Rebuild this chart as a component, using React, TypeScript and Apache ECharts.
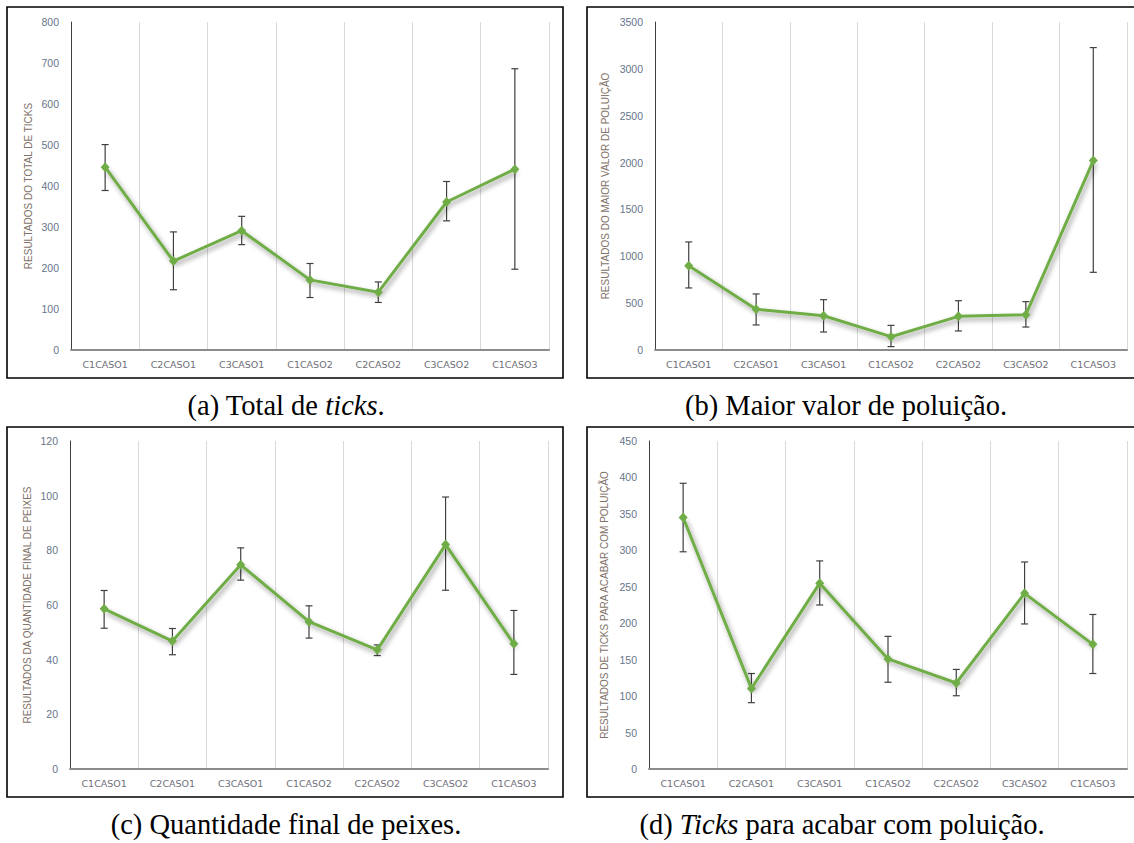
import React, { useEffect, useRef } from "react";
import * as echarts from "echarts";

const categories = ["C1CASO1", "C2CASO1", "C3CASO1", "C1CASO2", "C2CASO2", "C3CASO2", "C1CASO3"];

const totalTicks = [446, 217, 291, 171, 141, 361, 441];
const totalTicksLow = [389, 147, 257, 128, 116, 315, 197];
const totalTicksHigh = [501, 288, 326, 211, 166, 411, 686];

const maxPollution = [900, 434, 366, 142, 359, 377, 2021];
const maxPollutionLow = [662, 267, 192, 36, 203, 245, 829];
const maxPollutionHigh = [1153, 598, 537, 263, 526, 516, 3227];

const finalFish = [58.6, 46.8, 74.7, 53.9, 43.6, 82.1, 45.8];
const finalFishLow = [51.5, 41.8, 69.1, 47.9, 41.5, 65.4, 34.6];
const finalFishHigh = [65.3, 51.4, 80.9, 59.7, 45.4, 99.5, 58];

const ticksToClean = [345, 110.5, 255, 151, 118, 241, 171];
const ticksToCleanLow = [298, 91, 225, 119, 100.5, 199, 131];
const ticksToCleanHigh = [392, 131, 285.5, 182, 136.6, 284, 212];

const yNames = [
  "RESULTADOS DO TOTAL DE TICKS",
  "RESULTADOS DO MAIOR VALOR DE POLUIÇÃO",
  "RESULTADOS DA QUANTIDADE FINAL DE PEIXES",
  "RESULTADOS DE TICKS PARA ACABAR COM POLUIÇÃO",
];
const yMax = [800, 3500, 120, 450];
const yStep = [100, 500, 20, 50];

const captions = [
  "{n|(a) Total de }{i|ticks}{n|.}",
  "{n|(b) Maior valor de poluição.}",
  "{n|(c) Quantidade final de peixes.}",
  "{n|(d) }{i|Ticks}{n| para acabar com poluição.}",
];

const GREEN = "#70ad47";

export default function App() {
  const ref = useRef<HTMLDivElement>(null);

  useEffect(() => {
    if (!ref.current) return;
    const chart = echarts.init(ref.current, null, { renderer: "svg" });

    const values = [totalTicks, maxPollution, finalFish, ticksToClean];
    const lows = [totalTicksLow, maxPollutionLow, finalFishLow, ticksToCleanLow];
    const highs = [totalTicksHigh, maxPollutionHigh, finalFishHigh, ticksToCleanHigh];

    const grids = [
      { left: 71, top: 22, width: 478, height: 328 },
      { left: 655, top: 22, width: 472, height: 328 },
      { left: 70, top: 441, width: 478, height: 328 },
      { left: 649, top: 441, width: 478, height: 328 },
    ];
    const nameGaps = [38, 45, 38, 40];

    const boxes = [
      { x: 7, y: 7, w: 556, h: 371 },
      { x: 587, y: 7, w: 560, h: 371 },
      { x: 7, y: 427, w: 556, h: 370 },
      { x: 587, y: 427, w: 560, h: 370 },
    ];
    const capPos = [
      { x: 286, y: 405 },
      { x: 846, y: 405 },
      { x: 286, y: 824 },
      { x: 842, y: 824 },
    ];

    const xAxis = grids.map((_, i) => ({
      type: "category",
      gridIndex: i,
      data: categories,
      boundaryGap: true,
      axisTick: { show: false },
      axisLine: { show: true, lineStyle: { color: "#8c8c8c", width: 2 } },
      splitLine: { show: true, lineStyle: { color: "#d9d9d9", width: 1 } },
      axisLabel: {
        interval: 0,
        color: "#6e6e78",
        fontSize: 9.5,
        margin: 9,
        fontFamily: "DejaVu Sans",
      },
    }));

    const yAxis = grids.map((_, i) => ({
      type: "value",
      gridIndex: i,
      min: 0,
      max: yMax[i],
      interval: yStep[i],
      splitLine: { show: false },
      axisTick: { show: false },
      axisLine: { show: true, lineStyle: { color: "#404040", width: 1 } },
      axisLabel: {
        color: "#66758a",
        fontSize: 10.5,
        margin: 12,
        fontFamily: "Liberation Sans",
        formatter: (v: number) => String(v),
      },
      name: yNames[i],
      nameLocation: "middle",
      nameGap: nameGaps[i],
      nameTextStyle: { color: "#7f7268", fontSize: 10, fontFamily: "Liberation Sans" },
    }));

    const series: any[] = [];
    values.forEach((vals, i) => {
      series.push({
        type: "custom",
        xAxisIndex: i,
        yAxisIndex: i,
        z: 2,
        data: categories.map((_, k) => [k, lows[i][k], highs[i][k]]),
        encode: { x: 0, y: [1, 2] },
        renderItem: (params: any, api: any) => {
          const xi = api.value(0);
          const lo = api.coord([xi, api.value(1)]);
          const hi = api.coord([xi, api.value(2)]);
          const hw = 3.5;
          const style = { stroke: "#404040", lineWidth: 1.2 };
          return {
            type: "group",
            children: [
              { type: "line", shape: { x1: lo[0], y1: lo[1], x2: hi[0], y2: hi[1] }, style },
              { type: "line", shape: { x1: lo[0] - hw, y1: lo[1], x2: lo[0] + hw, y2: lo[1] }, style },
              { type: "line", shape: { x1: hi[0] - hw, y1: hi[1], x2: hi[0] + hw, y2: hi[1] }, style },
            ],
          };
        },
      });
      series.push({
        type: "line",
        xAxisIndex: i,
        yAxisIndex: i,
        z: 3,
        data: vals,
        symbol: "diamond",
        symbolSize: [9, 10],
        itemStyle: { color: GREEN },
        lineStyle: {
          color: GREEN,
          width: 3,
          shadowColor: "rgba(0,0,0,0.4)",
          shadowBlur: 5,
          shadowOffsetX: 2,
          shadowOffsetY: 3,
        },
      });
    });

    const graphic: any[] = [];
    boxes.forEach((b) => {
      graphic.push({
        type: "rect",
        shape: { x: b.x, y: b.y, width: b.w, height: b.h },
        style: { fill: "none", stroke: "#000", lineWidth: 1.6 },
        z: 100,
      });
    });
    captions.forEach((c, i) => {
      graphic.push({
        type: "text",
        x: capPos[i].x,
        y: capPos[i].y,
        style: {
          text: c,
          align: "center",
          verticalAlign: "middle",
          rich: {
            n: { fontFamily: "Liberation Serif", fontSize: 28.5, fill: "#000", color: "#000" },
            i: { fontFamily: "Liberation Serif", fontSize: 28.5, fontStyle: "italic", fill: "#000", color: "#000" },
          },
        },
      });
    });

    chart.setOption({
      animation: false,
      backgroundColor: "#fff",
      grid: grids.map((g) => ({ ...g, containLabel: false })),
      xAxis,
      yAxis,
      series,
      graphic,
    });

    return () => chart.dispose();
  }, []);

  return (
    <div
      ref={ref}
      style={{ position: "fixed", left: 0, top: 0, width: 1134, height: 843, background: "#fff" }}
    />
  );
}
